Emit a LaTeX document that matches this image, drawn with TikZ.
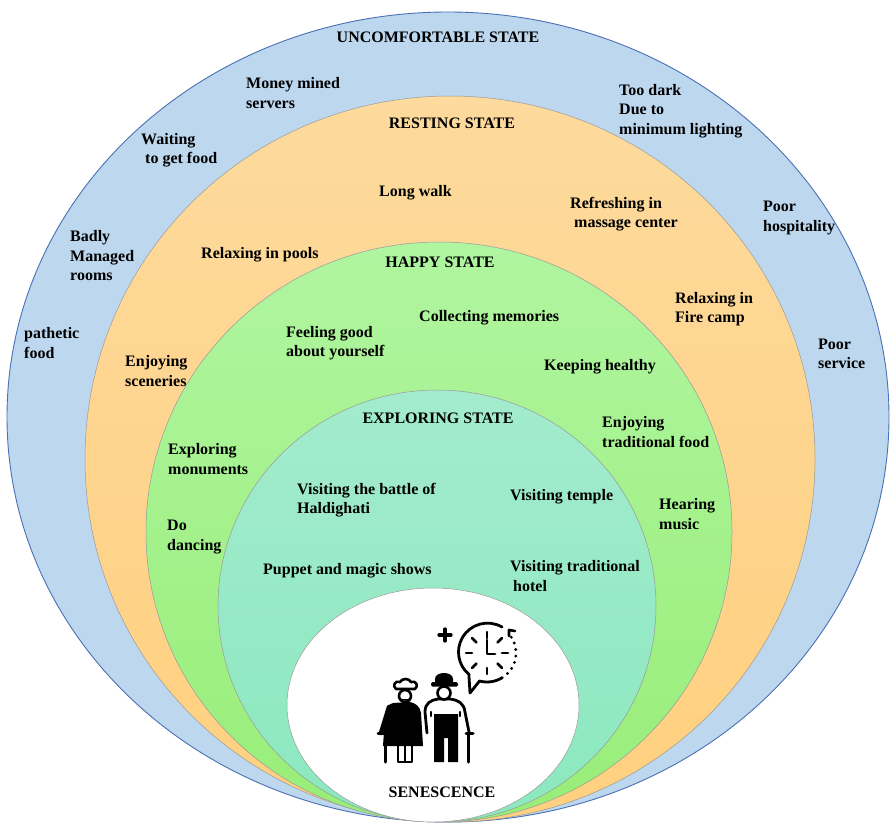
\documentclass[tikz,border=0pt]{standalone}
\usepackage{fontspec}
\setmainfont{Liberation Serif}
\usetikzlibrary{calc}
\definecolor{blueF}{HTML}{BDD7EE}
\definecolor{blueD}{HTML}{4A70B5}
\definecolor{orT}{HTML}{FDDA9D}
\definecolor{orB}{HTML}{FFD07F}
\definecolor{grT}{HTML}{B0F5A0}
\definecolor{grB}{HTML}{98EE78}
\definecolor{teT}{HTML}{A3EBCE}
\definecolor{teB}{HTML}{8BE8BE}
\definecolor{edge}{HTML}{9A9A9A}
\tikzset{
  lbl/.style={font=\fontsize{16}{19.5}\selectfont\bfseries, align=left, inner sep=0pt, anchor=west},
  ttl/.style={font=\fontsize{16}{19.5}\selectfont\bfseries, inner sep=0pt, anchor=center},
  icon/.style={line width=2.8pt, line cap=round, line join=round, draw=black},
}
\begin{document}
\begin{tikzpicture}[x=1pt,y=-1pt]
\useasboundingbox (0,0) rectangle (891,824);
\fill[white] (0,0) rectangle (891,824);
% rings
\fill[blueF] (448,417) ellipse [x radius=441, y radius=405];
\draw[blueD, line width=0.9pt] (448,417) ellipse [x radius=441, y radius=405];
\path[top color=orT, bottom color=orB] (450,459) ellipse [x radius=365, y radius=363];
\draw[edge, line width=0.5pt] (450,459) ellipse [x radius=365, y radius=363];
\path[top color=grT, bottom color=grB] (439,532) ellipse [x radius=293, y radius=290];
\draw[edge, line width=0.5pt] (439,532) ellipse [x radius=293, y radius=290];
\path[top color=teT, bottom color=teB] (437,606) ellipse [x radius=219, y radius=216];
\draw[edge, line width=0.5pt] (437,606) ellipse [x radius=219, y radius=216];
\fill[white] (433,705) ellipse [x radius=146, y radius=117];
\draw[edge, line width=0.5pt] (433,705) ellipse [x radius=146, y radius=117];

% titles
\node[ttl] (unc) at (438,37) {UNCOMFORTABLE STATE};
\node[ttl] (rest) at (452,123) {RESTING STATE};
\node[ttl] (happy) at (440,262) {HAPPY STATE};
\node[ttl] (expl) at (438,418) {EXPLORING STATE};
\node[ttl] (sen) at (442,792) {SENESCENCE};

% uncomfortable
\node[lbl] (u1) at (246,93) {Money mined\\servers};
\node[lbl] (u2) at (619,111) {Too dark\\Due to\\minimum lighting};
\node[lbl] (u3) at (141,150) {Waiting\\\hspace*{4pt}to get food};
\node[lbl] (u4) at (763,218) {Poor\\hospitality};
\node[lbl] (u5) at (70,256) {Badly\\Managed\\rooms};
\node[lbl] (u6) at (24,343) {pathetic\\food};
\node[lbl] (u7) at (818,354) {Poor\\service};

% resting
\node[lbl] (r1) at (379,193) {Long walk};
\node[lbl] (r2) at (570,214) {Refreshing in\\\hspace*{4pt}massage center};
\node[lbl] (r3) at (201,255) {Relaxing in pools};
\node[lbl] (r4) at (675,309) {Relaxing in\\Fire camp};
\node[lbl] (r5) at (125,371) {Enjoying\\sceneries};

% happy
\node[lbl] (h1) at (419,318) {Collecting memories};
\node[lbl] (h2) at (286,343) {Feeling good\\about yourself};
\node[lbl] (h3) at (544,367) {Keeping healthy};
\node[lbl] (h4) at (602,432) {Enjoying\\traditional food};
\node[lbl] (h5) at (168,459) {Exploring\\monuments};
\node[lbl] (h6) at (659,514) {Hearing\\music};
\node[lbl] (h7) at (167,537) {Do\\dancing};

% exploring
\node[lbl] (e1) at (297,500) {Visiting the battle of\\Haldighati};
\node[lbl] (e2) at (510,497) {Visiting temple};
\node[lbl] (e3) at (263,571) {Puppet and magic shows};
\node[lbl] (e4) at (510,576) {Visiting traditional\\\hspace*{3pt}hotel};

% ---------- icon ----------
% plus
\draw[icon, line width=3.2pt] (439,635) -- (451,635) (445,629) -- (445,641);
% clock bubble
\draw[icon] (502,627) arc[start angle=-60, end angle=-230, radius=29]
  -- (470,693) -- (479.5,681) arc[start angle=105, end angle=58, radius=29];
\foreach \a in {45,32,19,6,-7,-20,-33}
  \fill ($(487,653)+({29*cos(\a)},{29*sin(\a)})$) circle (1.6);
\draw[icon, line width=2.6pt] (509,636) -- (509,630) -- (515,631);
% ticks
\foreach \a in {0,45,...,315}
  \draw[icon, line width=2.6pt] ($(487,653)+({15*cos(\a)},{15*sin(\a)})$) -- ($(487,653)+({21*cos(\a)},{21*sin(\a)})$);
% hands
\draw[icon, line width=2.8pt] (487,640) -- (487,654) -- (495,654);

% woman
\fill (393,703) .. controls (388,704) and (385,710) .. (385,717) -- (383,746) -- (423,746) -- (421,713) .. controls (420,706) and (415,703) .. (410,702) -- cycle;
\draw[icon, line width=4.5pt] (389,707) -- (381,733);
\draw[icon, line width=3pt] (385,734) -- (385,762);
\draw[icon, line width=3pt] (378,733) -- (386,733);
\draw[icon, line width=2.6pt] (398,745) -- (398,762) -- (405,762) -- (405,745);
\draw[icon, line width=2.6pt] (405,762) -- (412,762) -- (412,745);
\filldraw[icon, fill=white, line width=2.6pt] (405,696) circle (6);
\fill (399,697) .. controls (400,702) and (410,702) .. (411,697) -- (408,699) -- (402,699) -- cycle;
\filldraw[icon, fill=white, line width=2.6pt] (396,689) .. controls (392,686) and (395,680) .. (400,682)
  .. controls (402,678) and (409,678) .. (411,682) .. controls (416,680) and (419,686) .. (415,689) -- cycle;

% man
\draw[icon, line width=2.8pt, fill=white] (427,733) -- (425,712) .. controls (425,703) and (431,700) .. (438,699)
  -- (450,699) .. controls (458,700) and (464,703) .. (465,712) -- (469,732);
\draw[icon, line width=2.6pt] (431,716) -- (431,712) (460,716) -- (460,712);
\fill (434,714) -- (458,714) -- (458,762) -- (448,762) -- (448,738) -- (444,738) -- (444,762) -- (434,762) -- cycle;
\draw[icon, line width=3pt] (468,734) -- (468,762);
\draw[icon, line width=3pt] (466,733) -- (473,733);
\filldraw[icon, fill=white, line width=2.6pt] (444,693) circle (6.5);
\fill (435,684) -- (435,679) .. controls (435,671) and (453,671) .. (453,679) -- (453,684) -- cycle;
\fill[rounded corners=1.5pt] (431,682) rectangle (458,686.5);
\end{tikzpicture}
\end{document}
